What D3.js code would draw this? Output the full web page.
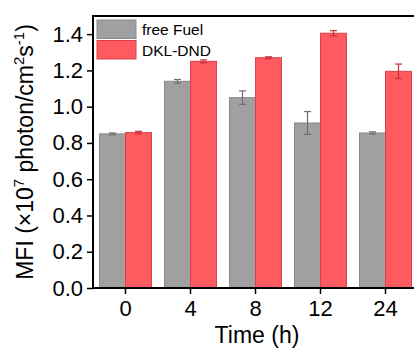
<!DOCTYPE html>
<html>
<head>
<meta charset="utf-8">
<script src="https://cdn.jsdelivr.net/npm/d3@7"></script>
<style>
  body { margin: 0; background: #fff; }
  svg { display: block; font-family: Arial, "Liberation Sans", sans-serif; }
</style>
</head>
<body>
<svg id="chart" width="414" height="349"></svg>
<script>
// data
const times = ["0", "4", "8", "12", "24"];
const seriesNames = ["free Fuel", "DKL-DND"];
const freeFuel = [0.85, 1.14, 1.05, 0.91, 0.855];
const freeFuelErr = [0.005, 0.01, 0.037, 0.063, 0.006];
const dklDnd = [0.857, 1.25, 1.27, 1.405, 1.195];
const dklDndErr = [0.007, 0.008, 0.005, 0.014, 0.04];
const yTicks = [0.0, 0.2, 0.4, 0.6, 0.8, 1.0, 1.2, 1.4];

const fills = ["#a0a0a0", "#ff5a60"];
const strokes = ["#8a8a8a", "#d9414a"];
const errColors = ["#6e6e6e", "#c8323a"];

const svg = d3.select("#chart");
const margin = {top: 16, left: 93, bottom: 61};
const height = 349;
const plotRight = 93 + 5 * 65; // plot runs past the right edge, cropped like the source

const x = d3.scaleBand().domain(times).range([margin.left, plotRight]).paddingInner(0.2).paddingOuter(0.1);
const y = d3.scaleLinear().domain([0, 1.5]).range([height - margin.bottom, margin.top]);

const groups = times.map((t, i) => ({
    t: t,
    vals: [
        {s: 0, v: freeFuel[i], e: freeFuelErr[i]},
        {s: 1, v: dklDnd[i], e: dklDndErr[i]}
    ]
}));

const sub = d3.scaleBand().domain([0, 1]).range([0, x.bandwidth()]);

const g = svg.append("g");

// bars
const grp = g.selectAll(".grp")
    .data(groups)
    .join("g")
    .attr("class", "grp")
    .attr("transform", d => `translate(${x(d.t)},0)`);

grp.selectAll("rect")
    .data(d => d.vals)
    .join("rect")
    .attr("x", d => sub(d.s))
    .attr("y", d => y(d.v))
    .attr("width", sub.bandwidth())
    .attr("height", d => y(0) - y(d.v))
    .attr("fill", d => fills[d.s])
    .attr("stroke", d => strokes[d.s])
    .attr("stroke-width", 1);

// error bars
const eb = grp.selectAll(".err")
    .data(d => d.vals)
    .join("g")
    .attr("class", "err")
    .attr("stroke", d => errColors[d.s])
    .attr("stroke-width", 1.2);

eb.append("line")
    .attr("x1", d => sub(d.s) + sub.bandwidth() / 2)
    .attr("x2", d => sub(d.s) + sub.bandwidth() / 2)
    .attr("y1", d => y(d.v + d.e))
    .attr("y2", d => y(d.v - d.e));
[1, -1].forEach(k => {
    eb.append("line")
        .attr("x1", d => sub(d.s) + sub.bandwidth() / 2 - 3.5)
        .attr("x2", d => sub(d.s) + sub.bandwidth() / 2 + 3.5)
        .attr("y1", d => y(d.v + k * d.e))
        .attr("y2", d => y(d.v + k * d.e));
});

// axes
const yAxis = g.append("g")
    .attr("transform", `translate(${margin.left},0)`)
    .call(d3.axisLeft(y).tickValues(yTicks).tickFormat(d3.format(".1f")).tickSize(6).tickSizeOuter(0));
yAxis.select(".domain").remove();
yAxis.selectAll("line").attr("stroke", "#000").attr("stroke-width", 1.5);
yAxis.selectAll("text").attr("font-size", 22).attr("fill", "#000").attr("x", -10);

const xAxis = g.append("g")
    .attr("transform", `translate(0,${y(0)})`)
    .call(d3.axisBottom(x).tickSize(6).tickSizeOuter(0));
xAxis.select(".domain").remove();
xAxis.selectAll("line").attr("stroke", "#000").attr("stroke-width", 1.5);
xAxis.selectAll("text").attr("font-size", 22).attr("fill", "#000").attr("y", 11).attr("dy", "0.78em");

// frame: left, top, bottom
g.append("path")
    .attr("d", `M${plotRight},${margin.top}H${margin.left}V${y(0)}H${plotRight}`)
    .attr("fill", "none")
    .attr("stroke", "#000")
    .attr("stroke-width", 2);

// legend
const leg = g.append("g").attr("transform", `translate(97,20)`);
seriesNames.forEach((name, i) => {
    leg.append("rect")
        .attr("x", 0).attr("y", i * 20.5)
        .attr("width", 39).attr("height", 18.5)
        .attr("fill", fills[i]).attr("stroke", strokes[i]);
    leg.append("text")
        .attr("x", 45).attr("y", i * 20.5 + 15)
        .attr("font-size", 15.5)
        .text(name);
});

// axis titles
svg.append("text")
    .attr("x", 257).attr("y", 343)
    .attr("text-anchor", "middle")
    .attr("font-size", 23)
    .text("Time (h)");

const yt = svg.append("text")
    .attr("transform", "translate(33,152) rotate(-90)")
    .attr("text-anchor", "middle")
    .attr("font-size", 23);
yt.append("tspan").text("MFI (\u00d710");
yt.append("tspan").attr("dy", -9).attr("font-size", 15).text("7");
yt.append("tspan").attr("dy", 9).text(" photon/cm");
yt.append("tspan").attr("dy", -9).attr("font-size", 15).text("2");
yt.append("tspan").attr("dy", 9).text("s");
yt.append("tspan").attr("dy", -9).attr("font-size", 15).text("-1");
yt.append("tspan").attr("dy", 9).text(")");
</script>
</body>
</html>
